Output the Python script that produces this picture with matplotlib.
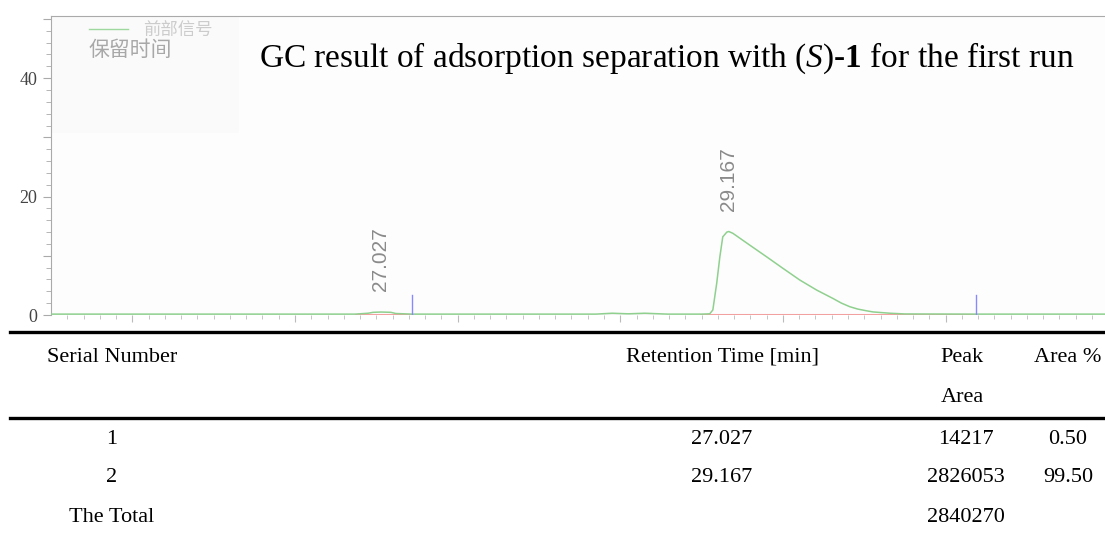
import matplotlib.pyplot as plt
from matplotlib.patches import Rectangle
import numpy as np

plt.rcParams['font.family'] = ['Liberation Serif', 'DejaVu Serif']
plt.rcParams['mathtext.fontset'] = 'custom'
plt.rcParams['mathtext.rm'] = 'Liberation Serif'
plt.rcParams['mathtext.it'] = 'Liberation Serif:italic'
plt.rcParams['mathtext.bf'] = 'Liberation Serif:bold'

# detector trace (min, signal)
trace_t = [25.00, 26.00, 26.87, 26.95, 26.98, 27.03, 27.09, 27.12, 27.22, 28.00,
           28.35, 28.45, 28.55, 28.65, 28.79, 29.00, 29.05, 29.069, 29.093, 29.112,
           29.130, 29.155, 29.167, 29.192, 29.296, 29.401, 29.499, 29.604, 29.708,
           29.807, 29.86, 29.911, 29.96, 30.016, 30.053, 30.157, 30.25, 30.69, 31.0, 31.6]
trace_y = [0.15, 0.15, 0.15, 0.30, 0.45, 0.50, 0.45, 0.25, 0.15, 0.15,
           0.15, 0.30, 0.20, 0.30, 0.15, 0.15, 0.20, 0.85, 5.4, 9.8,
           13.2, 14.0, 14.1, 13.8, 11.8, 9.8, 7.9, 5.9, 4.2,
           2.8, 2.0, 1.4, 1.0, 0.70, 0.52, 0.30, 0.18, 0.15, 0.15, 0.15]

peak_rt = [27.027, 29.167]
peak_top = [0.50, 14.1]
peak_start = [26.873, 28.999]
peak_end = [27.218, 30.686]
end_mark_height = 3.4

serial = ['1', '2']
retention = ['27.027', '29.167']
peak_area = ['14217', '2826053']
area_pct = ['0.50', '99.50']
total_area = '2840270'

W, H = 1105, 538
fig = plt.figure(figsize=(W / 100, H / 100), dpi=100)

# overlay in pixel units for the table part
lay = fig.add_axes([0, 0, 1, 1], zorder=0)
lay.set_xlim(0, W)
lay.set_ylim(H, 0)
lay.axis('off')

ax = fig.add_axes([51 / W, (H - 315) / H, 1 - 51 / W, (315 - 16) / H], zorder=1)
ax.set_facecolor('#fdfdfd')
ax.set_xlim(25.0, 31.48)
ax.set_ylim(0, 50.5)

ax.add_patch(Rectangle((0, 0.61), 0.178, 0.39, transform=ax.transAxes,
                       facecolor='#fafafa', edgecolor='none', zorder=0))

ax.plot(trace_t, trace_y, color='#8fd08f', lw=1.1, zorder=3)
for s, e in zip(peak_start, peak_end):
    ax.plot([s, e], [0.0, 0.0], color='#f2a0a0', lw=2.2, zorder=2)
for e in peak_end:
    ax.plot([e, e], [0, end_mark_height], color='#8888ff', lw=1.0, zorder=4)

for rt, top in zip(peak_rt, peak_top):
    ax.annotate(f'{rt:.3f}', (rt, top), xytext=(0, 15), textcoords='offset points',
                rotation=90, ha='center', va='bottom', fontsize=15,
                family='Liberation Sans', color='#8a8a8a')

for side in ['right', 'bottom']:
    ax.spines[side].set_visible(False)
ax.spines['left'].set_color('#aaaaaa')
ax.spines['top'].set_color('#aaaaaa')
ax.axhline(0, color='#cccccc', lw=1.0, zorder=1)

ax.set_yticks([0, 10, 20, 30, 40, 50])
ax.set_yticklabels(['0', '', '20', '', '40', ''])
ax.set_yticks(np.arange(0, 51, 2), minor=True)
ax.set_xticks(np.arange(25.5, 31.5, 1.0))
ax.set_xticks(np.arange(25.1, 31.5, 0.1), minor=True)
ax.tick_params(axis='x', which='both', direction='out', colors='#bbbbbb',
               labelbottom=False, bottom=True)
ax.tick_params(axis='x', which='major', length=5)
ax.tick_params(axis='x', which='minor', length=3)
ax.tick_params(axis='y', which='both', direction='out', color='#aaaaaa',
               labelcolor='#444444', labelsize=13, pad=4)
ax.tick_params(axis='y', which='major', length=6)
ax.tick_params(axis='y', which='minor', length=3.5)

# legend
ax.plot([0.036, 0.073], [0.955, 0.955], transform=ax.transAxes, color='#9fd89f', lw=1)
ax.text(0.087, 0.955, '前部信号', transform=ax.transAxes, fontsize=12.5,
        family=['Noto Sans CJK SC'], color='#cccccc', va='center')
ax.text(0.036, 0.885, '保留时间', transform=ax.transAxes, fontsize=15,
        family=['Noto Sans CJK SC'], color='#a8a8a8', va='center')

ax.text(0.197, 0.86,
        r'GC result of adsorption separation with ($\mathit{S}$)-$\mathbf{1}$ for the first run',
        transform=ax.transAxes, fontsize=24, color='black', va='center', ha='left')

# peak table
lay.plot([10, W], [332, 332], color='black', lw=2.4)
lay.plot([10, W], [418, 418], color='black', lw=2.4)
fs = 16
lay.text(112, 357, 'Serial Number', fontsize=fs, ha='center', va='center')
lay.text(722, 357, 'Retention Time [min]', fontsize=fs, ha='center', va='center')
lay.text(962, 357, 'Peak', fontsize=fs, ha='center', va='center')
lay.text(962, 398, 'Area', fontsize=fs, ha='center', va='center')
lay.text(1068, 357, 'Area %', fontsize=fs, ha='center', va='center')
for i, y in enumerate([439, 478]):
    lay.text(112, y, serial[i], fontsize=fs, ha='center', va='center')
    lay.text(722, y, retention[i], fontsize=fs, ha='center', va='center')
    lay.text(966, y, peak_area[i], fontsize=fs, ha='center', va='center')
    lay.text(1068, y, area_pct[i], fontsize=fs, ha='center', va='center')
lay.text(112, 517, 'The Total', fontsize=fs, ha='center', va='center')
lay.text(966, 517, total_area, fontsize=fs, ha='center', va='center')

fig.savefig('out.png', dpi=100)
